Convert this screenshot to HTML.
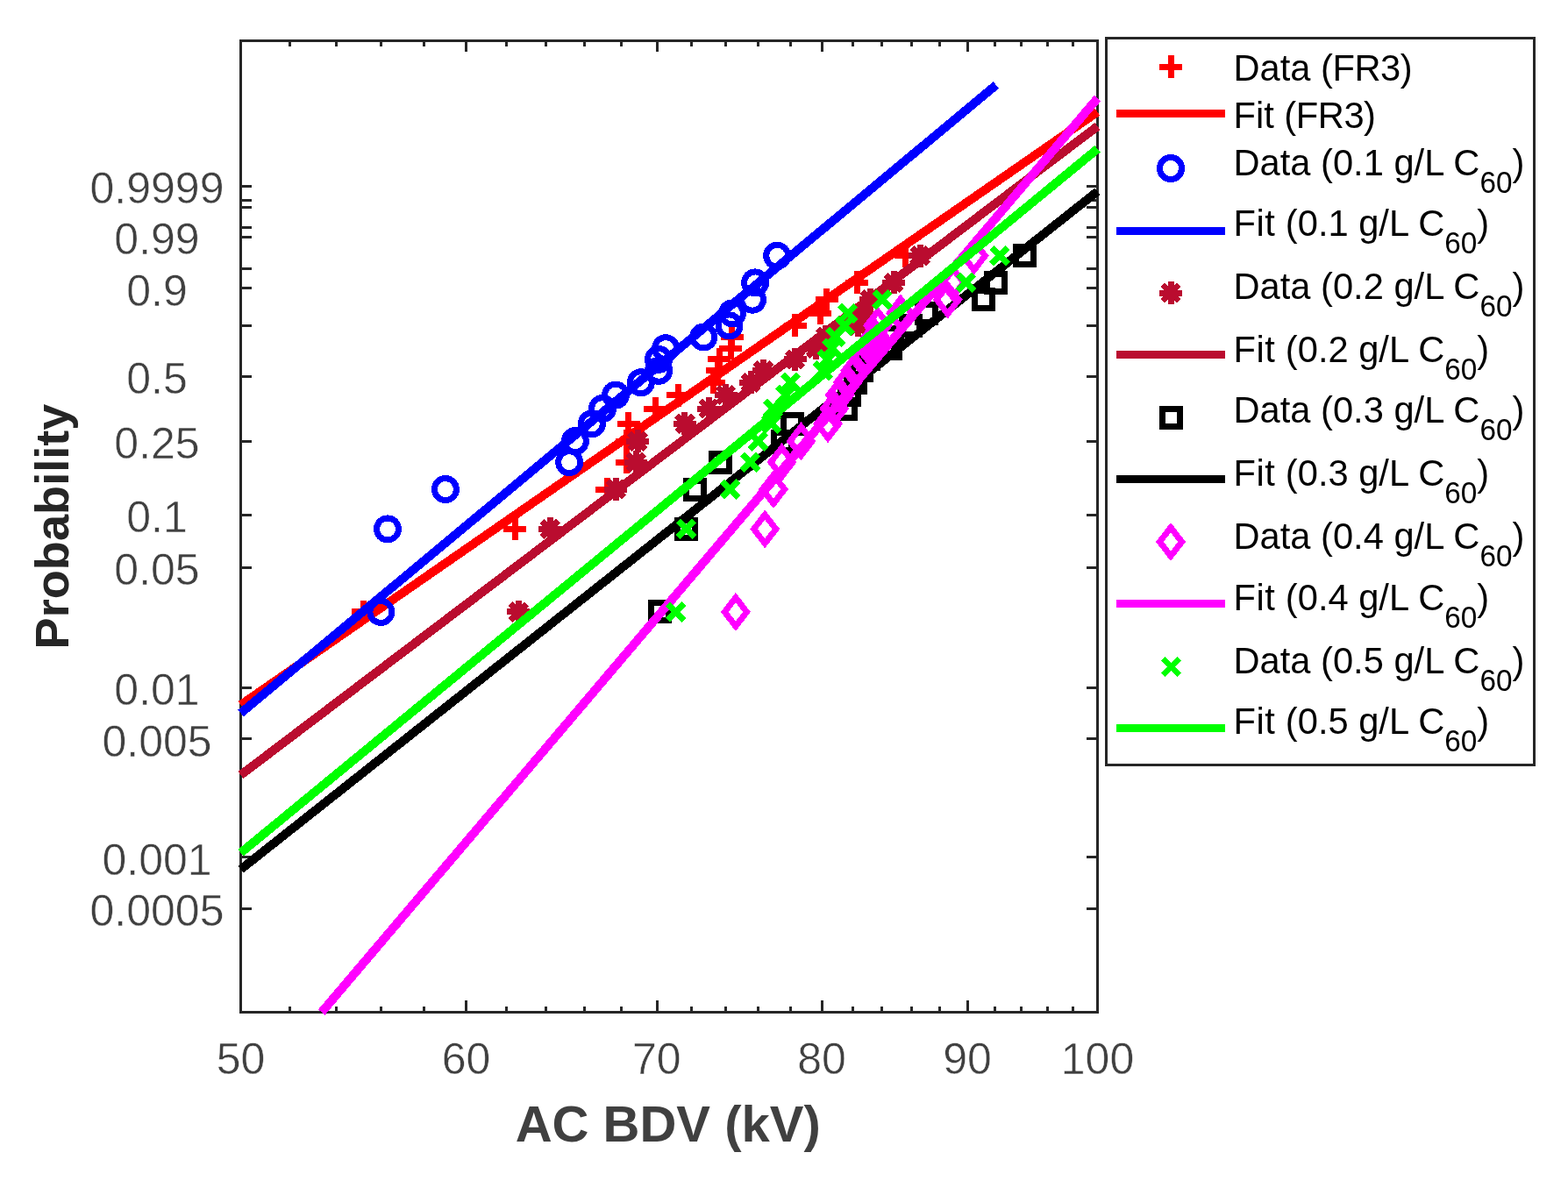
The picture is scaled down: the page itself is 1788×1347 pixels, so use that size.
<!DOCTYPE html>
<html lang="en"><head><meta charset="utf-8"><title>Weibull probability plot - AC BDV</title>
<style>html,body{margin:0;padding:0;background:#fff}body{width:1788px;height:1347px;overflow:hidden}svg{display:block}text{font-family:"Liberation Sans",Arial,Helvetica,sans-serif}</style>
</head><body>
<svg width="1788" height="1347" viewBox="0 0 1788 1347">
<defs>
<g id="mp"><path d="M-13 0H13M0 -13V13" fill="none" stroke-width="7"/></g>
<g id="mo"><circle r="12.5" fill="none" stroke-width="7"/></g>
<g id="ma"><path d="M-13 0H13M0 -13V13M-9.2 -9.2L9.2 9.2M-9.2 9.2L9.2 -9.2" fill="none" stroke-width="7"/></g>
<g id="ms"><rect x="-10" y="-10" width="20" height="20" fill="none" stroke-width="7"/></g>
<g id="md"><path d="M0 -16.3L12.6 0L0 16.3L-12.6 0Z" fill="none" stroke-width="7" stroke-miterlimit="10"/></g>
<g id="mx"><path d="M-9.2 -9.2L9.2 9.2M-9.2 9.2L9.2 -9.2" fill="none" stroke-width="7"/></g>
</defs>
<rect width="1788" height="1347" fill="#fff"/>
<g id="axes" stroke="#262626" stroke-width="3" fill="none" shape-rendering="crispEdges">
<rect x="274.5" y="46.5" width="977.0" height="1108.0"/>
<path d="M330.5 1154.5v-6.7M330.5 46.5v6.0M383.5 1154.5v-6.7M383.5 46.5v6.0M434.5 1154.5v-6.7M434.5 46.5v6.0M483.5 1154.5v-6.7M483.5 46.5v6.0M531.5 1154.5v-13.2M531.5 46.5v12.5M577.5 1154.5v-6.7M577.5 46.5v6.0M622.5 1154.5v-6.7M622.5 46.5v6.0M666.5 1154.5v-6.7M666.5 46.5v6.0M708.5 1154.5v-6.7M708.5 46.5v6.0M749.5 1154.5v-13.2M749.5 46.5v12.5M788.5 1154.5v-6.7M788.5 46.5v6.0M827.5 1154.5v-6.7M827.5 46.5v6.0M864.5 1154.5v-6.7M864.5 46.5v6.0M901.5 1154.5v-6.7M901.5 46.5v6.0M937.5 1154.5v-13.2M937.5 46.5v12.5M972.5 1154.5v-6.7M972.5 46.5v6.0M1005.5 1154.5v-6.7M1005.5 46.5v6.0M1039.5 1154.5v-6.7M1039.5 46.5v6.0M1071.5 1154.5v-6.7M1071.5 46.5v6.0M1103.5 1154.5v-13.2M1103.5 46.5v12.5M1134.5 1154.5v-6.7M1134.5 46.5v6.0M1164.5 1154.5v-6.7M1164.5 46.5v6.0M1194.5 1154.5v-6.7M1194.5 46.5v6.0M1223.5 1154.5v-6.7M1223.5 46.5v6.0M274.5 1036.5h12.5M1251.5 1036.5h-12.5M274.5 977.5h12.5M1251.5 977.5h-12.5M274.5 842.5h12.5M1251.5 842.5h-12.5M274.5 784.5h12.5M1251.5 784.5h-12.5M274.5 647.5h12.5M1251.5 647.5h-12.5M274.5 587.5h12.5M1251.5 587.5h-12.5M274.5 503.5h12.5M1251.5 503.5h-12.5M274.5 429.5h12.5M1251.5 429.5h-12.5M274.5 371.5h12.5M1251.5 371.5h-12.5M274.5 328.5h12.5M1251.5 328.5h-12.5M274.5 306.5h12.5M1251.5 306.5h-12.5M274.5 270.5h12.5M1251.5 270.5h-12.5M274.5 259.5h12.5M1251.5 259.5h-12.5M274.5 236.5h12.5M1251.5 236.5h-12.5M274.5 228.5h12.5M1251.5 228.5h-12.5M274.5 212.5h12.5M1251.5 212.5h-12.5"/>
</g>
<g id="series" shape-rendering="crispEdges">
<g stroke="#ff0000">
<use href="#mp" x="414.4" y="697.96"/><use href="#mp" x="587" y="603.42"/><use href="#mp" x="692" y="558.03"/><use href="#mp" x="714.5" y="527.11"/><use href="#mp" x="714.5" y="503.17"/><use href="#mp" x="716.5" y="483.3"/><use href="#mp" x="747" y="466.04"/><use href="#mp" x="773" y="450.54"/><use href="#mp" x="813.9" y="436.26"/><use href="#mp" x="818" y="422.81"/><use href="#mp" x="820.1" y="409.88"/><use href="#mp" x="833" y="397.19"/><use href="#mp" x="834.8" y="384.45"/><use href="#mp" x="906.8" y="371.35"/><use href="#mp" x="935.4" y="357.38"/><use href="#mp" x="942.5" y="341.71"/><use href="#mp" x="977.2" y="322.42"/><use href="#mp" x="1032.6" y="291.73"/>
<line x1="274.5" y1="804.0" x2="1251.5" y2="127.6" stroke-width="10"/>
</g>
<g stroke="#0000ff">
<use href="#mo" x="434.3" y="697.96"/><use href="#mo" x="442" y="603.42"/><use href="#mo" x="507.9" y="558.03"/><use href="#mo" x="649.2" y="527.11"/><use href="#mo" x="655.9" y="503.17"/><use href="#mo" x="674.9" y="483.3"/><use href="#mo" x="687.1" y="466.04"/><use href="#mo" x="702" y="450.54"/><use href="#mo" x="730.8" y="436.26"/><use href="#mo" x="751.2" y="422.81"/><use href="#mo" x="751" y="409.88"/><use href="#mo" x="759.1" y="397.19"/><use href="#mo" x="802.3" y="384.45"/><use href="#mo" x="831.5" y="371.35"/><use href="#mo" x="835" y="357.38"/><use href="#mo" x="858" y="341.71"/><use href="#mo" x="861.1" y="322.42"/><use href="#mo" x="886.2" y="291.73"/>
<line x1="274.5" y1="813.4" x2="1135.9" y2="97.0" stroke-width="10"/>
</g>
<g stroke="#ba0c2f">
<use href="#ma" x="591.2" y="697.96"/><use href="#ma" x="627.2" y="603.42"/><use href="#ma" x="702.2" y="558.03"/><use href="#ma" x="725.1" y="527.11"/><use href="#ma" x="727" y="503.17"/><use href="#ma" x="780.9" y="483.3"/><use href="#ma" x="808" y="466.04"/><use href="#ma" x="827.5" y="450.54"/><use href="#ma" x="856.2" y="436.26"/><use href="#ma" x="870.6" y="422.81"/><use href="#ma" x="906.6" y="409.88"/><use href="#ma" x="930.6" y="397.19"/><use href="#ma" x="941.8" y="384.45"/><use href="#ma" x="978.6" y="371.35"/><use href="#ma" x="983" y="357.38"/><use href="#ma" x="992.6" y="341.71"/><use href="#ma" x="1019" y="322.42"/><use href="#ma" x="1049" y="291.73"/>
<line x1="274.5" y1="884.0" x2="1251.5" y2="144.0" stroke-width="10"/>
</g>
<g stroke="#000000">
<use href="#ms" x="752.8" y="697.96"/><use href="#ms" x="782.5" y="603.42"/><use href="#ms" x="792.7" y="558.03"/><use href="#ms" x="821.6" y="527.11"/><use href="#ms" x="892.8" y="503.17"/><use href="#ms" x="903.4" y="483.3"/><use href="#ms" x="964.6" y="466.04"/><use href="#ms" x="968.3" y="450.54"/><use href="#ms" x="975.3" y="436.26"/><use href="#ms" x="982.4" y="422.81"/><use href="#ms" x="990.6" y="409.88"/><use href="#ms" x="1015.5" y="397.19"/><use href="#ms" x="1017" y="384.45"/><use href="#ms" x="1038.5" y="371.35"/><use href="#ms" x="1056.5" y="357.38"/><use href="#ms" x="1121.5" y="341.71"/><use href="#ms" x="1135.5" y="322.42"/><use href="#ms" x="1168.5" y="291.73"/>
<line x1="274.5" y1="991.6" x2="1251.5" y2="218.3" stroke-width="10"/>
</g>
<g stroke="#ff00ff">
<use href="#md" x="838.9" y="697.96"/><use href="#md" x="872.2" y="603.42"/><use href="#md" x="882" y="558.03"/><use href="#md" x="891.5" y="527.11"/><use href="#md" x="913.5" y="503.17"/><use href="#md" x="944.1" y="483.3"/><use href="#md" x="951.3" y="466.04"/><use href="#md" x="957.6" y="450.54"/><use href="#md" x="966.6" y="436.26"/><use href="#md" x="975.2" y="422.81"/><use href="#md" x="984.5" y="409.88"/><use href="#md" x="991.5" y="397.19"/><use href="#md" x="998" y="384.45"/><use href="#md" x="1001" y="371.35"/><use href="#md" x="1026.9" y="357.38"/><use href="#md" x="1080.7" y="341.71"/><use href="#md" x="1086.4" y="322.42"/><use href="#md" x="1110.7" y="291.73"/>
<line x1="366.8" y1="1154.5" x2="1251.5" y2="112.0" stroke-width="10"/>
</g>
<g stroke="#00ff00">
<use href="#mx" x="770.7" y="697.96"/><use href="#mx" x="782.5" y="603.42"/><use href="#mx" x="832.8" y="558.03"/><use href="#mx" x="855.5" y="527.11"/><use href="#mx" x="864.5" y="503.17"/><use href="#mx" x="879.4" y="483.3"/><use href="#mx" x="881.4" y="466.04"/><use href="#mx" x="895.6" y="450.54"/><use href="#mx" x="901.4" y="436.26"/><use href="#mx" x="938.3" y="422.81"/><use href="#mx" x="943.5" y="409.88"/><use href="#mx" x="948.8" y="397.19"/><use href="#mx" x="952.5" y="384.45"/><use href="#mx" x="963.3" y="371.35"/><use href="#mx" x="966.6" y="357.38"/><use href="#mx" x="1006" y="341.71"/><use href="#mx" x="1101.5" y="322.42"/><use href="#mx" x="1140" y="291.73"/>
<line x1="274.5" y1="972.7" x2="1251.5" y2="169.8" stroke-width="10"/>
</g>
</g>
<g id="yticks" fill="#404040" stroke="#fff" stroke-width="0.5" font-size="50" text-anchor="middle">
<text x="179" y="232">0.9999</text>
<text x="179" y="290">0.99</text>
<text x="179" y="349">0.9</text>
<text x="179" y="449">0.5</text>
<text x="179" y="523">0.25</text>
<text x="179" y="607">0.1</text>
<text x="179" y="667">0.05</text>
<text x="179" y="804">0.01</text>
<text x="179" y="863">0.005</text>
<text x="179" y="998">0.001</text>
<text x="179" y="1056">0.0005</text>
</g>
<g id="xticks" fill="#404040" stroke="#fff" stroke-width="0.5" font-size="50" text-anchor="middle">
<text x="274.5" y="1224.5">50</text>
<text x="531.48" y="1224.5">60</text>
<text x="748.76" y="1224.5">70</text>
<text x="936.98" y="1224.5">80</text>
<text x="1102.99" y="1224.5">90</text>
<text x="1251.5" y="1224.5">100</text>
</g>
<text x="761.7" y="1302" fill="#404040" font-size="58" font-weight="bold" text-anchor="middle">AC BDV (kV)</text>
<text transform="translate(78.2 600.5) rotate(-90)" fill="#262626" font-size="54.17" font-weight="bold" text-anchor="middle">Probability</text>
<g id="legend">
<rect x="1261.5" y="43.5" width="487.5" height="829" fill="#fff" stroke="#262626" stroke-width="3" shape-rendering="crispEdges"/>
<g shape-rendering="crispEdges">
<g stroke="#ff0000"><use href="#mp" x="1335" y="76"/><line x1="1273" y1="129.5" x2="1397" y2="129.5" stroke-width="9"/></g>
<g stroke="#0000ff"><use href="#mo" x="1335" y="192"/><line x1="1273" y1="263.5" x2="1397" y2="263.5" stroke-width="9"/></g>
<g stroke="#ba0c2f"><use href="#ma" x="1335" y="334"/><line x1="1273" y1="404.5" x2="1397" y2="404.5" stroke-width="9"/></g>
<g stroke="#000000"><use href="#ms" x="1335.5" y="476"/><line x1="1273" y1="546.5" x2="1397" y2="546.5" stroke-width="9"/></g>
<g stroke="#ff00ff"><use href="#md" x="1335" y="618"/><line x1="1273" y1="688.5" x2="1397" y2="688.5" stroke-width="9"/></g>
<g stroke="#00ff00"><use href="#mx" x="1335.5" y="760.5"/><line x1="1273" y1="830.5" x2="1397" y2="830.5" stroke-width="9"/></g>
</g>
<g fill="#000" font-size="41.67">
<text transform="translate(1406.5 92) scale(1 1.035)">Data <tspan letter-spacing="-0.45">(FR3)</tspan></text>
<text transform="translate(1406.5 146) scale(1 1.035)">Fit <tspan letter-spacing="-0.45">(FR3)</tspan></text>
<text transform="translate(1406.5 200) scale(1 1.035)">Data (0.1 g/L C<tspan font-size="33.3" dy="19">60</tspan><tspan dy="-19">)</tspan></text>
<text transform="translate(1406.5 269) scale(1 1.035)"><tspan letter-spacing="0.5">Fit</tspan> (0.1 g/L C<tspan font-size="33.3" dy="19">60</tspan><tspan dy="-19">)</tspan></text>
<text transform="translate(1406.5 341) scale(1 1.035)">Data (0.2 g/L C<tspan font-size="33.3" dy="19">60</tspan><tspan dy="-19">)</tspan></text>
<text transform="translate(1406.5 413) scale(1 1.035)"><tspan letter-spacing="0.5">Fit</tspan> (0.2 g/L C<tspan font-size="33.3" dy="19">60</tspan><tspan dy="-19">)</tspan></text>
<text transform="translate(1406.5 482) scale(1 1.035)">Data (0.3 g/L C<tspan font-size="33.3" dy="19">60</tspan><tspan dy="-19">)</tspan></text>
<text transform="translate(1406.5 554) scale(1 1.035)"><tspan letter-spacing="0.5">Fit</tspan> (0.3 g/L C<tspan font-size="33.3" dy="19">60</tspan><tspan dy="-19">)</tspan></text>
<text transform="translate(1406.5 626) scale(1 1.035)">Data (0.4 g/L C<tspan font-size="33.3" dy="19">60</tspan><tspan dy="-19">)</tspan></text>
<text transform="translate(1406.5 696) scale(1 1.035)"><tspan letter-spacing="0.5">Fit</tspan> (0.4 g/L C<tspan font-size="33.3" dy="19">60</tspan><tspan dy="-19">)</tspan></text>
<text transform="translate(1406.5 768) scale(1 1.035)">Data (0.5 g/L C<tspan font-size="33.3" dy="19">60</tspan><tspan dy="-19">)</tspan></text>
<text transform="translate(1406.5 837) scale(1 1.035)"><tspan letter-spacing="0.5">Fit</tspan> (0.5 g/L C<tspan font-size="33.3" dy="19">60</tspan><tspan dy="-19">)</tspan></text>
</g>
</g>
</svg>
</body></html>
